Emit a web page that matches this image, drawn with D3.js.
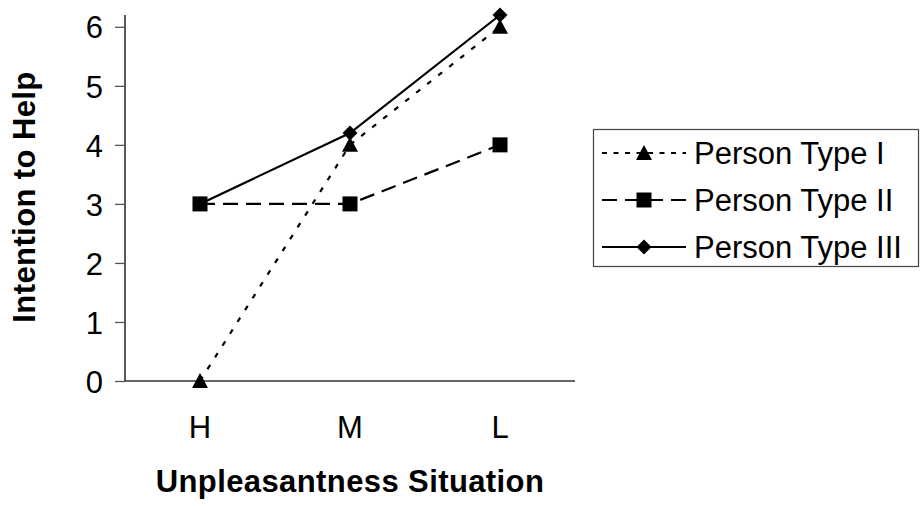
<!DOCTYPE html>
<html>
<head>
<meta charset="utf-8">
<script src="https://cdn.jsdelivr.net/npm/d3@7"></script>
<style>
  html, body { margin: 0; padding: 0; background: #fff; }
  svg { display: block; font-family: "Liberation Sans", Arial, sans-serif; }
</style>
</head>
<body>
<svg id="chart" width="920" height="506"></svg>
<script>
const categories = ["H", "M", "L"];
const seriesNames = ["Person Type I", "Person Type II", "Person Type III"];
const typeI = [0, 4, 6];
const typeII = [3, 3, 4];
const typeIII = [3, 4.2, 6.2];
const yTicks = [0, 1, 2, 3, 4, 5, 6];
const xTitle = "Unpleasantness Situation";
const yTitle = "Intention to Help";

const series = [
  { name: seriesNames[0], values: typeI, dash: "5,9", legendDash: "5,6.5", marker: "triangle" },
  { name: seriesNames[1], values: typeII, dash: "15,8", legendDash: "15,8", marker: "square" },
  { name: seriesNames[2], values: typeIII, dash: null, legendDash: null, marker: "diamond" }
];

const svg = d3.select("#chart");
const plot = { left: 125, right: 575, top: 15, bottom: 381 };
const FS = 31;

const x = d3.scaleBand().domain(categories).range([plot.left, plot.right]).paddingInner(0).paddingOuter(0);
const y = d3.scaleLinear().domain([0, 6.2]).range([plot.bottom, plot.top]);
const cx = c => x(c) + x.bandwidth() / 2;

// Y axis
const yAxis = d3.axisLeft(y).tickValues(yTicks).tickSize(10).tickPadding(12).tickFormat(d3.format("d"));
const gy = svg.append("g").attr("transform", `translate(${plot.left},0)`).call(yAxis);
gy.select(".domain").attr("d", `M0,${plot.top}V${plot.bottom}`).attr("stroke", "#000").attr("stroke-width", 1.3);
gy.selectAll(".tick line").attr("stroke", "#555").attr("stroke-width", 1.3);
gy.selectAll(".tick text").attr("font-size", FS).attr("fill", "#000").attr("dy", "0.36em")
  .attr("font-family", "Liberation Sans, Arial, sans-serif");

// X axis
const xAxis = d3.axisBottom(x).tickSize(0).tickPadding(35);
const gx = svg.append("g").attr("transform", `translate(0,${plot.bottom})`).call(xAxis);
gx.select(".domain").attr("d", `M${plot.left},0H${plot.right}`).attr("stroke", "#333").attr("stroke-width", 1.3);
gx.selectAll(".tick text").attr("font-size", FS).attr("fill", "#000")
  .attr("font-family", "Liberation Sans, Arial, sans-serif");

// Axis titles
svg.append("text").attr("x", 350).attr("y", 492).attr("text-anchor", "middle")
  .attr("font-size", FS).attr("font-weight", "bold").attr("letter-spacing", 0.4).text(xTitle);
svg.append("text").attr("transform", "translate(35,197) rotate(-90)").attr("text-anchor", "middle")
  .attr("font-size", FS).attr("font-weight", "bold").attr("letter-spacing", 0.4).text(yTitle);

// Marker shapes
function markerPath(m) {
  if (m === "triangle") return "M0,-8L8,7L-8,7Z";
  if (m === "square") return "M-7.5,-7.5H7.5V7.5H-7.5Z";
  return "M0,-7.5L7.5,0L0,7.5L-7.5,0Z";
}

const line = d3.line().x((d, i) => cx(categories[i])).y(d => y(d));

series.forEach(s => {
  svg.append("path").attr("d", line(s.values)).attr("fill", "none")
    .attr("stroke", "#000").attr("stroke-width", 2.2)
    .attr("stroke-dasharray", s.dash);
});
series.forEach(s => {
  svg.selectAll(null).data(s.values).enter().append("path")
    .attr("d", markerPath(s.marker))
    .attr("transform", (d, i) => `translate(${cx(categories[i])},${y(d)})`)
    .attr("fill", "#000");
});

// Legend
const lg = svg.append("g");
lg.append("rect").attr("x", 593.5).attr("y", 129.5).attr("width", 325).attr("height", 137)
  .attr("fill", "#fff").attr("stroke", "#444").attr("stroke-width", 1.2);
const rowY = d3.scalePoint().domain(seriesNames).range([153, 247]);
series.forEach(s => {
  const yy = rowY(s.name);
  lg.append("line").attr("x1", 602).attr("x2", 686).attr("y1", yy).attr("y2", yy)
    .attr("stroke", "#000").attr("stroke-width", 2.2).attr("stroke-dasharray", s.legendDash);
  lg.append("path").attr("d", markerPath(s.marker))
    .attr("transform", `translate(644,${yy})`).attr("fill", "#000");
  lg.append("text").attr("x", 694).attr("y", yy).attr("dy", "0.36em")
    .attr("font-size", FS).attr("fill", "#000").text(s.name);
});
</script>
</body>
</html>
